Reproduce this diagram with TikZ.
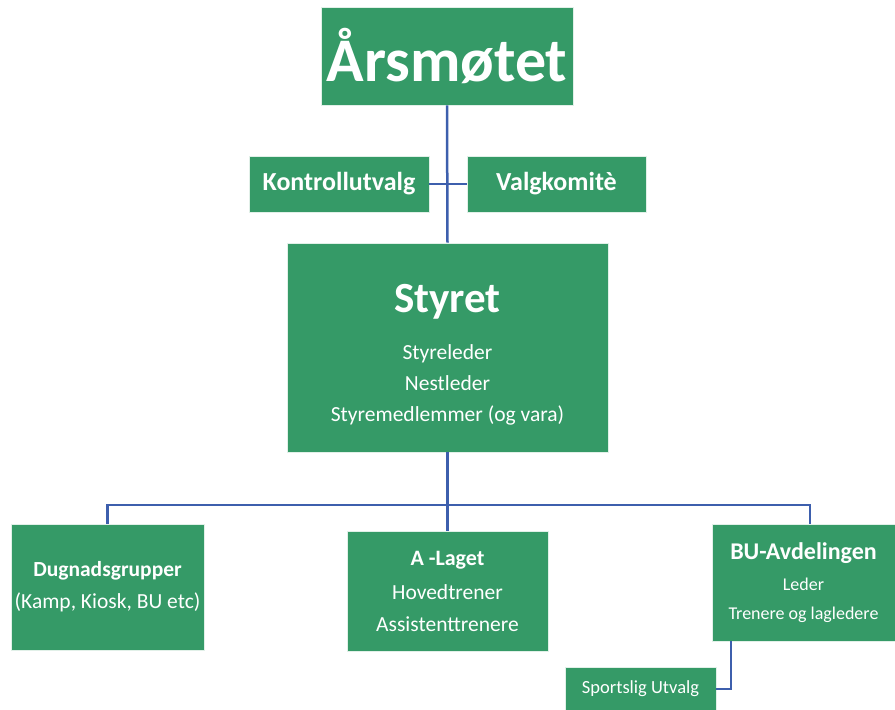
\documentclass[tikz,border=0pt]{standalone}
\usepackage{fontspec}
\setmainfont{Carlito}
\definecolor{boxgreen}{RGB}{53,154,103}
\definecolor{lineblue}{RGB}{61,95,173}
\tikzset{
  orgbox/.style={fill=boxgreen, draw=white!85!boxgreen, line width=0.6pt, text=white, align=center, inner sep=0pt},
  link/.style={draw=lineblue, line width=2.5pt}
}
\begin{document}
\begin{tikzpicture}[x=1pt, y=-1pt]
\useasboundingbox (0,0) rectangle (895,710);

\node[orgbox, minimum width=252pt, minimum height=98pt, font=\fontsize{62}{66}\selectfont\bfseries] (aarsmote) at (447,56) {Årsmøtet};
\node[orgbox, minimum width=180pt, minimum height=56pt, font=\fontsize{26}{30}\selectfont\bfseries] (kontroll) at (339,184) {Kontrollutvalg};
\node[orgbox, minimum width=179pt, minimum height=56pt, font=\fontsize{26}{30}\selectfont\bfseries] (valg) at (556.5,184) {Valgkomitè};
\node[orgbox, minimum width=321pt, minimum height=209pt, font=\fontsize{21.5}{31}\selectfont] (styret) at (447.5,347.5)
  {{\fontsize{43}{46}\selectfont\bfseries\rule{0pt}{42pt}Styret}\\[16pt] Styreleder\\ Nestleder\\ Styremedlemmer (og vara)};

\node[orgbox, minimum width=193pt, minimum height=126pt, font=\fontsize{21.5}{32}\selectfont] (dugnad) at (107.5,587)
  {{\bfseries Dugnadsgrupper}\\ (Kamp, Kiosk, BU etc)};
\node[orgbox, minimum width=201pt, minimum height=120pt, font=\fontsize{21.5}{32}\selectfont] (alaget) at (447.5,591)
  {{\fontsize{22}{24}\selectfont\bfseries A -Laget}\\[2pt] Hovedtrener\\ Assistenttrenere};
\node[orgbox, minimum width=183pt, minimum height=117pt, font=\fontsize{18}{29}\selectfont] (bu) at (803.5,582.5)
  {{\fontsize{24}{26}\selectfont\bfseries BU-Avdelingen}\\[2pt] Leder\\ Trenere og lagledere};
\node[orgbox, minimum width=151pt, minimum height=44pt, font=\fontsize{18.5}{22}\selectfont] (sportslig) at (640.5,689) {Sportslig Utvalg};

\coordinate (split) at (447,505);

\draw[link] (aarsmote.south) -- (styret.north);
\draw[link] (kontroll.east) -- (valg.west);
\draw[link] (styret.south) -- (alaget.north);
\draw[link] (dugnad.north) |- (split) -| ([xshift=6.5pt]bu.north);
\draw[link] ([xshift=-72.5pt]bu.south) |- (sportslig.east);
\end{tikzpicture}
\end{document}
